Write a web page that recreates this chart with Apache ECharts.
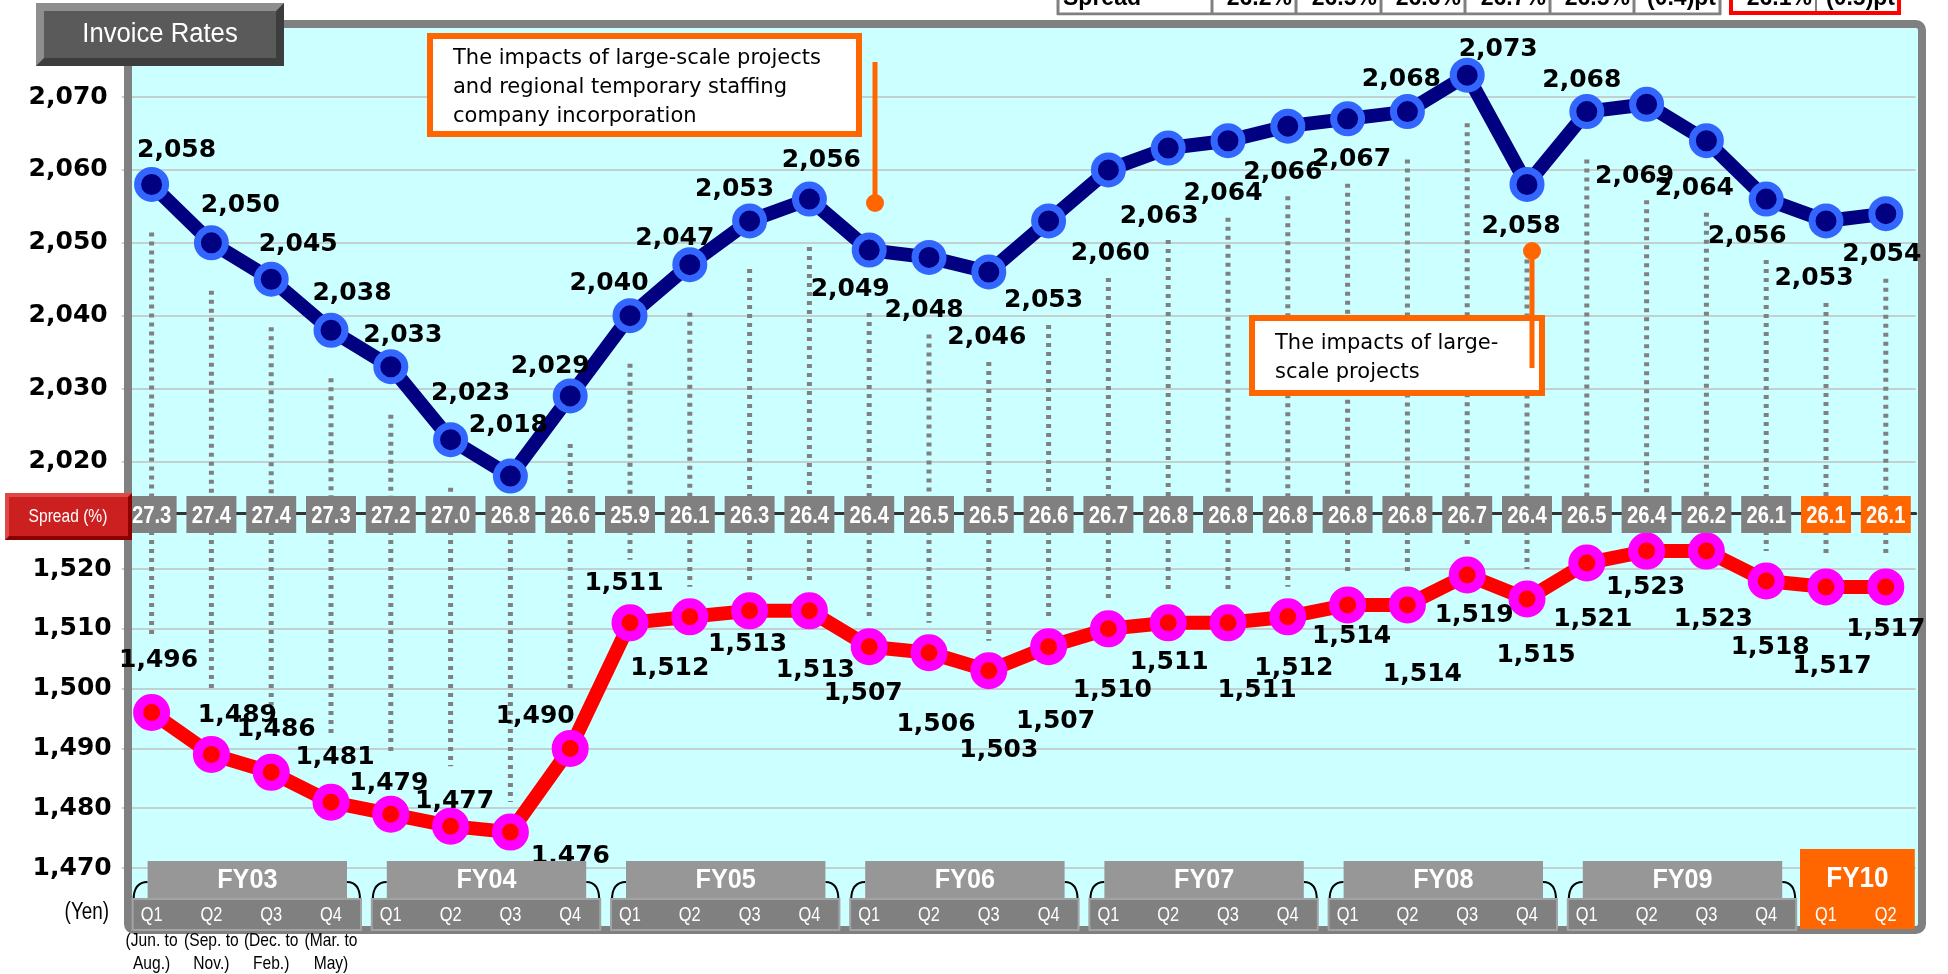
<!DOCTYPE html>
<html>
<head>
<meta charset="utf-8">
<title>Invoice Rates</title>
<script src="https://cdn.jsdelivr.net/npm/echarts@6/dist/echarts.min.js"></script>
<style>
  html, body { margin: 0; padding: 0; background: #ffffff; }
  #chart { width: 1948px; height: 974px; }
</style>
</head>
<body>
<div id="chart"></div>
<script>
// ---- data -------------------------------------------------------------
const fiscalYears = ['FY03', 'FY04', 'FY05', 'FY06', 'FY07', 'FY08', 'FY09', 'FY10'];
const quartersPerYear = [4, 4, 4, 4, 4, 4, 4, 2];
const currentYear = 'FY10';

// average hourly invoice rate billed to clients (yen)
const invoiceRates = [2058, 2050, 2045, 2038, 2033, 2023, 2018, 2029, 2040, 2047, 2053, 2056,
                      2049, 2048, 2046, 2053, 2060, 2063, 2064, 2066, 2067, 2068, 2073, 2058,
                      2068, 2069, 2064, 2056, 2053, 2054];
// average hourly pay rate to staff (yen)
const payRates = [1496, 1489, 1486, 1481, 1479, 1477, 1476, 1490, 1511, 1512, 1513, 1513,
                  1507, 1506, 1503, 1507, 1510, 1511, 1511, 1512, 1514, 1514, 1519, 1515,
                  1521, 1523, 1523, 1518, 1517, 1517];
// spread between the two rates (%)
const spreadPct = [27.3, 27.4, 27.4, 27.3, 27.2, 27.0, 26.8, 26.6, 25.9, 26.1, 26.3, 26.4,
                   26.4, 26.5, 26.5, 26.6, 26.7, 26.8, 26.8, 26.8, 26.8, 26.8, 26.7, 26.4,
                   26.5, 26.4, 26.2, 26.1, 26.1, 26.1];

const invoiceAxis = { min: 2020, max: 2070, step: 10 };
const payAxis = { min: 1470, max: 1520, step: 10 };

const monthNotes = ['(Jun. to\nAug.)', '(Sep. to\nNov.)', '(Dec. to\nFeb.)', '(Mar. to\nMay)'];

const summaryRow = ['Spread', '26.2%', '26.5%', '26.6%', '26.7%', '26.5%', '(0.4)pt'];
const summaryCurrent = ['26.1%', '(0.5)pt'];

const noteUpper = 'The impacts of large-scale projects\nand regional temporary staffing\ncompany incorporation';
const noteLower = 'The impacts of large-\nscale projects';

// ---- label placement (pixel offsets from each marker) ------------------
const invoiceLabelOffset = [
  [25, -34], [29, -37], [27, -35], [21, -37], [12, -31], [20, -46], [-2, -51], [-20, -29],
  [-21, -32], [-15, -26], [-15, -31], [12, -39], [-19, 39], [-5, 53], [-2, 66], [-5, 80],
  [2, 84], [-9, 68], [-5, 53], [-5, 46], [4, 41], [-6, -32], [31, -26], [-6, 42],
  [-5, -31], [-12, 72], [-12, 48], [-19, 37], [-12, 58], [-4, 41]
];
const payLabelOffset = [
  [7, -52], [26, -39], [5, -43], [4, -45], [-2, -31], [4, -25], [60, 24], [-35, -32],
  [-6, -39], [-20, 52], [-2, 34], [6, 60], [-6, 47], [7, 72], [10, 80], [7, 75],
  [4, 62], [1, 40], [29, 68], [6, 52], [4, 32], [15, 70], [7, 41], [9, 57],
  [6, 56], [-1, 36], [7, 68], [4, 67], [6, 80], [0, 43]
];

// ---- derived ------------------------------------------------------------
const categories = [];
const yearSpans = [];
fiscalYears.forEach(function (fy, k) {
  const start = categories.length;
  for (let q = 1; q <= quartersPerYear[k]; q++) categories.push(fy + ' Q' + q);
  yearSpans.push([start, categories.length - 1, k]);
});

function withComma(v) {
  return String(v).replace(/\B(?=(\d{3})+(?!\d))/g, ',');
}

const ROW_Y = 513;          // centre line of the spread strip
const LABEL_FONT = 'DejaVu Sans';
const SANS = '"Liberation Sans", Arial, sans-serif';
const CONDENSE = 0.82;      // horizontal squeeze for the condensed captions

function txt(text, x, y, font, fill, align, valign, extra, squeeze) {
  const style = Object.assign({
    text: text, font: font, fill: fill,
    align: align, textAlign: align,
    verticalAlign: valign, textVerticalAlign: valign
  }, extra || {});
  const el = { type: 'text', x: x, y: y, style: style, silent: true };
  if (squeeze) { el.scaleX = squeeze; }
  return el;
}

// ---- custom renderers -------------------------------------------------
function renderUpperDrop(params, api) {
  const i = api.value(0);
  const p = api.coord([i, api.value(1)]);
  const dy = invoiceLabelOffset[i][1];
  const start = p[1] + (dy > 0 ? Math.max(48, dy + 24) : 48);
  if (start >= ROW_Y) return;
  return {
    type: 'line', shape: { x1: p[0], y1: start, x2: p[0], y2: ROW_Y },
    style: { stroke: '#808080', lineWidth: 5, lineDash: [4, 5] }
  };
}

function renderLowerDrop(params, api) {
  const i = api.value(0);
  const p = api.coord([i, api.value(1)]);
  const dy = payLabelOffset[i][1];
  const end = p[1] - (dy < 0 ? Math.max(60, -dy + 24) : 30);
  if (end <= ROW_Y) return;
  return {
    type: 'line', shape: { x1: p[0], y1: ROW_Y, x2: p[0], y2: end },
    style: { stroke: '#808080', lineWidth: 5, lineDash: [4, 5] }
  };
}

function renderSpread(params, api) {
  const i = api.value(0);
  const x = api.coord([i, invoiceAxis.min])[0];
  const current = categories[i].indexOf(currentYear) === 0;
  return {
    type: 'group',
    children: [
      { type: 'rect', shape: { x: x - 25, y: 496, width: 50, height: 37 },
        style: { fill: current ? '#FF6600' : '#808080' } },
      txt(api.value(1).toFixed(1), x, 517, 'bold 23px ' + SANS, '#ffffff', 'center', 'middle', null, 0.88)
    ]
  };
}

function renderYear(params, api) {
  const s = api.value(0), e = api.value(1), k = api.value(2);
  const xs = api.coord([s, payAxis.min])[0];
  const xe = api.coord([e, payAxis.min])[0];
  const fy = fiscalYears[k];
  const children = [];
  if (fy === currentYear) {
    const l = xs - 26, r = xe + 29;
    children.push({ type: 'rect', shape: { x: l, y: 849, width: r - l, height: 80 },
      style: { fill: '#FF6600' } });
    children.push(txt(fy, (l + r) / 2, 879, 'bold 29px ' + SANS, '#ffffff', 'center', 'middle', null, 0.9));
  } else {
    const tl = xs - 4, tr = xe + 16;
    const ql = xs - 19, qr = xe + 30;
    children.push({ type: 'bezierCurve',
      shape: { x1: ql + 1, y1: 900, cpx1: ql + 1, cpy1: 882, x2: tl, y2: 882 },
      style: { stroke: '#000000', lineWidth: 2, fill: null } });
    children.push({ type: 'bezierCurve',
      shape: { x1: tr, y1: 882, cpx1: qr - 1, cpy1: 882, x2: qr - 1, y2: 900 },
      style: { stroke: '#000000', lineWidth: 2, fill: null } });
    children.push({ type: 'rect', shape: { x: tl, y: 861, width: tr - tl, height: 37 },
      style: { fill: '#979797' } });
    children.push({ type: 'rect', shape: { x: ql, y: 899, width: qr - ql, height: 31 },
      style: { fill: '#808080', stroke: '#A3A3A3', lineWidth: 2 } });
    children.push(txt(fy, (tl + tr) / 2, 880, 'bold 28px ' + SANS, '#ffffff', 'center', 'middle', null, 0.9));
  }
  for (let i = s; i <= e; i++) {
    const x = api.coord([i, payAxis.min])[0];
    children.push(txt('Q' + (i - s + 1), x, 915, '20px ' + SANS, '#ffffff', 'center', 'middle', null, CONDENSE));
  }
  return { type: 'group', children: children };
}

function renderMonths(params, api) {
  const i = api.value(0);
  const x = api.coord([i, payAxis.min])[0];
  return txt(monthNotes[i], x, 929, '19px ' + SANS, '#000000', 'center', 'top', { lineHeight: 23 }, CONDENSE);
}

// ---- fixed decorations --------------------------------------------------
const graphics = [];
// plot background and frame
graphics.push({ type: 'rect', z: -10, silent: true,
  shape: { x: 128, y: 24, width: 1794, height: 906 }, style: { fill: '#CCFFFF' } });
graphics.push({ type: 'rect', z: 2, silent: true,
  shape: { x: 128, y: 24, width: 1794, height: 906, r: 6 },
  style: { fill: 'transparent', stroke: '#808080', lineWidth: 8 } });

// title plate
graphics.push({ type: 'rect', z: 21, silent: true, shape: { x: 36, y: 3, width: 248, height: 63 }, style: { fill: '#3d3d3d' } });
graphics.push({ type: 'polygon', z: 21, silent: true,
  shape: { points: [[36, 3], [284, 3], [276, 11], [44, 11], [44, 58], [36, 66]] }, style: { fill: '#8e8e8e' } });
graphics.push({ type: 'rect', z: 21, silent: true, shape: { x: 44, y: 11, width: 232, height: 47 }, style: { fill: '#5a5a5a' } });
graphics.push(Object.assign(txt('Invoice Rates', 160, 35, '27px ' + SANS, '#ffffff', 'center', 'middle', null, 0.95), { z: 22 }));

// spread strip caption
graphics.push({ type: 'rect', z: 21, silent: true, shape: { x: 5, y: 493, width: 127, height: 47 }, style: { fill: '#8B0000' } });
graphics.push({ type: 'polygon', z: 21, silent: true,
  shape: { points: [[5, 493], [132, 493], [128, 497], [9, 497], [9, 536], [5, 540]] }, style: { fill: '#E04848' } });
graphics.push({ type: 'rect', z: 21, silent: true, shape: { x: 9, y: 497, width: 119, height: 39 }, style: { fill: '#CC1F1F' } });
graphics.push(Object.assign(txt('Spread (%)', 68, 517, '19px ' + SANS, '#ffffff', 'center', 'middle', null, CONDENSE), { z: 22 }));

// unit caption
graphics.push(txt('(Yen)', 109, 913, '23px ' + SANS, '#000000', 'right', 'middle', null, CONDENSE));

// summary table strip along the top edge
const cellEdges = [1058, 1212, 1296, 1381, 1465, 1550, 1634, 1720];
cellEdges.forEach(function (x) {
  graphics.push({ type: 'line', silent: true, shape: { x1: x, y1: -2, x2: x, y2: 15 }, style: { stroke: '#808080', lineWidth: 3 } });
});
summaryRow.forEach(function (t, i) {
  if (i === 0) graphics.push(txt(t, cellEdges[0] + 5, 10, 'bold 23px ' + SANS, '#000000', 'left', 'bottom'));
  else graphics.push(txt(t, cellEdges[i + 1] - 4, 10, 'bold 23px ' + SANS, '#000000', 'right', 'bottom'));
});
graphics.push({ type: 'line', silent: true, shape: { x1: 1057, y1: 14, x2: 1721, y2: 14 }, style: { stroke: '#808080', lineWidth: 3 } });
graphics.push({ type: 'rect', silent: true, shape: { x: 0, y: 15.5, width: 1948, height: 6 }, style: { fill: '#ffffff' } });
graphics.push({ type: 'line', silent: true, shape: { x1: 1816, y1: -2, x2: 1816, y2: 13 }, style: { stroke: '#808080', lineWidth: 2 } });
graphics.push(txt(summaryCurrent[0], 1812, 10, 'bold 23px ' + SANS, '#000000', 'right', 'bottom'));
graphics.push(txt(summaryCurrent[1], 1895, 10, 'bold 23px ' + SANS, '#000000', 'right', 'bottom'));
graphics.push({ type: 'rect', silent: true, shape: { x: 1731, y: -6, width: 168, height: 19 },
  style: { fill: 'transparent', stroke: '#FF0000', lineWidth: 4 } });

// call-out notes
graphics.push({ type: 'rect', z: 10, silent: true, shape: { x: 430, y: 36, width: 429, height: 98 },
  style: { fill: '#ffffff', stroke: '#FF6600', lineWidth: 6 } });
graphics.push(Object.assign(txt(noteUpper, 453, 44, '21px "' + LABEL_FONT + '"', '#000000', 'left', 'top', { lineHeight: 29 }), { z: 11 }));
graphics.push({ type: 'line', z: 11, silent: true, shape: { x1: 875, y1: 62, x2: 875, y2: 203 }, style: { stroke: '#FF6600', lineWidth: 5 } });
graphics.push({ type: 'circle', z: 11, silent: true, shape: { cx: 875, cy: 203, r: 9 }, style: { fill: '#FF6600' } });

graphics.push({ type: 'rect', z: 10, silent: true, shape: { x: 1252, y: 318, width: 290, height: 75 },
  style: { fill: '#ffffff', stroke: '#FF6600', lineWidth: 6 } });
graphics.push(Object.assign(txt(noteLower, 1275, 329, '21px "' + LABEL_FONT + '"', '#000000', 'left', 'top', { lineHeight: 29 }), { z: 11 }));
graphics.push({ type: 'line', z: 11, silent: true, shape: { x1: 1532, y1: 251, x2: 1532, y2: 368 }, style: { stroke: '#FF6600', lineWidth: 5 } });
graphics.push({ type: 'circle', z: 11, silent: true, shape: { cx: 1532, cy: 251, r: 9 }, style: { fill: '#FF6600' } });

// ---- chart --------------------------------------------------------------
const valueLabel = {
  show: true, position: 'inside', color: '#000000',
  fontFamily: LABEL_FONT, fontWeight: 'bold', fontSize: 25,
  textBorderWidth: 0, textBorderColor: 'transparent',
  formatter: function (p) { return withComma(p.value); }
};

const axisLabelStyle = {
  color: '#000000', fontFamily: LABEL_FONT, fontWeight: 'bold', fontSize: 25,
  formatter: withComma
};

const chart = echarts.init(document.getElementById('chart'), null, { renderer: 'canvas' });
chart.setOption({
  animation: false,
  backgroundColor: '#ffffff',
  grid: [
    { left: 121.7, top: 97, width: 1794, height: 364.5 },
    { left: 121.7, top: 569, width: 1794, height: 299 }
  ],
  xAxis: [
    { gridIndex: 0, type: 'category', data: categories, offset: 51.5,
      axisLine: { show: true, lineStyle: { color: '#333333', width: 3 } },
      axisTick: { show: false }, axisLabel: { show: false }, splitLine: { show: false } },
    { gridIndex: 1, type: 'category', data: categories,
      axisLine: { show: false }, axisTick: { show: false }, axisLabel: { show: false }, splitLine: { show: false } }
  ],
  yAxis: [
    { gridIndex: 0, type: 'value', min: invoiceAxis.min, max: invoiceAxis.max, interval: invoiceAxis.step,
      axisLine: { show: false }, axisTick: { show: false },
      axisLabel: Object.assign({ margin: 14 }, axisLabelStyle),
      splitLine: { lineStyle: { color: '#C0C0C0', width: 1.5 } } },
    { gridIndex: 1, type: 'value', min: payAxis.min, max: payAxis.max, interval: payAxis.step,
      axisLine: { show: false }, axisTick: { show: false },
      axisLabel: Object.assign({ margin: 10 }, axisLabelStyle),
      splitLine: { lineStyle: { color: '#C0C0C0', width: 1.5 } } }
  ],
  graphic: { elements: graphics },
  series: [
    { type: 'custom', name: 'drop-upper', xAxisIndex: 0, yAxisIndex: 0, z: 1, silent: true, clip: false,
      data: invoiceRates.map(function (v, i) { return [i, v]; }), renderItem: renderUpperDrop },
    { type: 'custom', name: 'drop-lower', xAxisIndex: 1, yAxisIndex: 1, z: 1, silent: true, clip: false,
      data: payRates.map(function (v, i) { return [i, v]; }), renderItem: renderLowerDrop },
    { type: 'line', name: 'Invoice rate', xAxisIndex: 0, yAxisIndex: 0, z: 3, clip: false,
      symbol: 'circle', symbolSize: 28, showAllSymbol: true,
      lineStyle: { color: '#000080', width: 14 },
      itemStyle: { color: '#000080', borderColor: '#3366FF', borderWidth: 7 },
      label: valueLabel,
      data: invoiceRates.map(function (v, i) { return { value: v, label: { offset: invoiceLabelOffset[i] } }; }) },
    { type: 'line', name: 'Pay rate', xAxisIndex: 1, yAxisIndex: 1, z: 3, clip: false,
      symbol: 'circle', symbolSize: 27, showAllSymbol: true,
      lineStyle: { color: '#FF0000', width: 14 },
      itemStyle: { color: '#FF0000', borderColor: '#FF00FF', borderWidth: 10 },
      label: valueLabel,
      data: payRates.map(function (v, i) { return { value: v, label: { offset: payLabelOffset[i] } }; }) },
    { type: 'custom', name: 'spread', xAxisIndex: 0, yAxisIndex: 0, z: 6, silent: true, clip: false,
      data: spreadPct.map(function (v, i) { return [i, v]; }), renderItem: renderSpread },
    { type: 'custom', name: 'years', xAxisIndex: 1, yAxisIndex: 1, z: 6, silent: true, clip: false,
      data: yearSpans, renderItem: renderYear },
    { type: 'custom', name: 'months', xAxisIndex: 1, yAxisIndex: 1, z: 6, silent: true, clip: false,
      data: monthNotes.map(function (t, i) { return [i, payAxis.min]; }), renderItem: renderMonths }
  ]
});
</script>
</body>
</html>
